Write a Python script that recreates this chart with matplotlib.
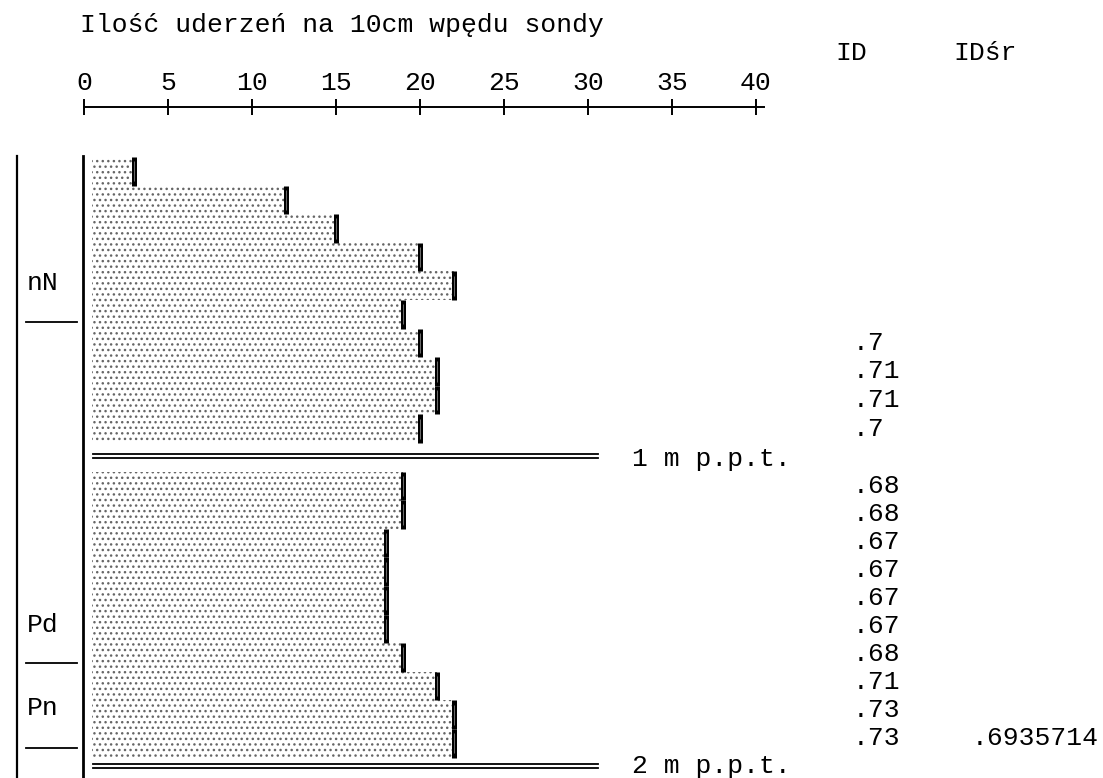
import matplotlib
matplotlib.use("Agg")
import matplotlib.pyplot as plt

# ---- data ----
section1_blows = [3, 12, 15, 20, 22, 19, 20, 21, 21, 20]
section2_blows = [19, 19, 18, 18, 18, 18, 19, 21, 22, 22]
section1_id = [None, None, None, None, None, None, ".7", ".71", ".71", ".7"]
section2_id = [".68", ".68", ".67", ".67", ".67", ".67", ".68", ".71", ".73", ".73"]
id_mean = ".6935714"
depth_labels = ["1 m p.p.t.", "2 m p.p.t."]
soil_labels = ["nN", "Pd", "Pn"]
soil_label_rows = [4.41, 16.36, 19.27]
soil_bound_rows = [5.77, 17.69, 20.66]
xticks = [0, 5, 10, 15, 20, 25, 30, 35, 40]
title = "Ilość uderzeń na 10cm wpędu sondy"

FONT = "Liberation Mono"
FS = 19

W, H = 1103, 778
fig = plt.figure(figsize=(W / 100, H / 100), dpi=100)

# axes geometry in pixels
x0_px, px_per_unit = 84.0, 16.8
xmax = 40.5
top_px = 107.0
row0_px, row_h = 157.0, 28.6
ax_w = xmax * px_per_unit
ax = fig.add_axes([x0_px / W, 0, ax_w / W, (H - top_px) / H])
ax.set_xlim(0, xmax)
ax.set_ylim((H - row0_px) / row_h, (top_px - row0_px) / row_h)

for s in ["left", "right", "bottom"]:
    ax.spines[s].set_visible(False)
ax.spines["top"].set_linewidth(1.4)
ax.xaxis.tick_top()
ax.set_xticks(xticks)
ax.set_xticklabels([str(t) for t in xticks], fontfamily=FONT, fontsize=FS)
ax.tick_params(axis="x", direction="inout", length=12, width=1.4, pad=3)
ax.set_yticks([])
ax.patch.set_alpha(0)

rows1 = list(range(0, 10))
rows2 = list(range(11, 21))
all_rows = rows1 + rows2
all_vals = section1_blows + section2_blows

bar_start = 0.5
ax.barh([r + 0.5 for r in all_rows], [v - bar_start for v in all_vals],
        left=bar_start, height=1.0, color="white", edgecolor="#666666",
        hatch="...", linewidth=0)
for r, v in zip(all_rows, all_vals):
    ax.plot([v, v], [r, r + 1], color="black", lw=3.6, solid_capstyle="butt")
    ax.plot([v, v], [r + 0.15, r + 0.85], color="white", lw=0.5, alpha=0.6,
            solid_capstyle="butt")

# depth double lines
for yy in [(10.38, 10.54), (21.22, 21.36)]:
    for y in yy:
        ax.plot([0.55, 30.6], [y, y], color="black", lw=1.3, clip_on=False)
ax.text(32.6, 10.56, depth_labels[0], fontfamily=FONT, fontsize=FS,
        va="center", ha="left", clip_on=False)
ax.text(32.6, 21.29, depth_labels[1], fontfamily=FONT, fontsize=FS,
        va="center", ha="left", clip_on=False)

# ID column
id_x = 45.75
for r, t in zip(rows1, section1_id):
    if t:
        ax.text(id_x, r + 0.5, t, fontfamily=FONT, fontsize=FS, va="center",
                ha="left", clip_on=False)
for i, (r, t) in enumerate(zip(rows2, section2_id)):
    ax.text(id_x, r + 0.5 - 0.02 * i, t, fontfamily=FONT, fontsize=FS,
            va="center", ha="left", clip_on=False)
ax.text(52.85, rows2[-1] + 0.5 - 0.18, id_mean, fontfamily=FONT, fontsize=FS,
        va="center", ha="left", clip_on=False)

# left column: soil layers
ax.plot([-3.99, -3.99], [-0.05, 22], color="black", lw=1.6, clip_on=False)
ax.plot([-0.05, -0.05], [-0.05, 22], color="black", lw=2.0, clip_on=False)
for lab, r in zip(soil_labels, soil_label_rows):
    ax.text(-3.42, r, lab, fontfamily=FONT, fontsize=FS, va="center",
            ha="left", clip_on=False)
for r in soil_bound_rows:
    ax.plot([-3.45, -0.42], [r, r], color="black", lw=1.3, clip_on=False)

# headers
fig.text(80 / W, 1 - 25 / H, title, fontfamily=FONT, fontsize=FS,
         va="center", ha="left")
fig.text(835 / W, 1 - 53 / H, "ID", fontfamily=FONT, fontsize=FS,
         va="center", ha="left")
fig.text(953 / W, 1 - 53 / H, "IDśr", fontfamily=FONT, fontsize=FS,
         va="center", ha="left")

fig.savefig("out.png", dpi=100)
